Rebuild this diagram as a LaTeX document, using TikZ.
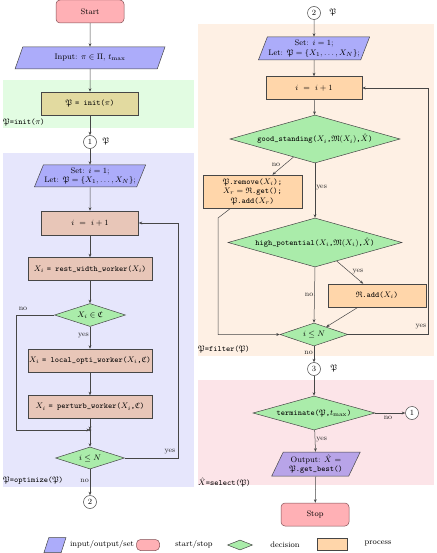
\documentclass[tikz,border=0pt]{standalone}
\usepackage{amssymb}
\usetikzlibrary{shapes.geometric,arrows.meta,calc}
\definecolor{cStartF}{RGB}{255,176,181}
\definecolor{cStartD}{RGB}{130,80,85}
\definecolor{cIOF}{RGB}{172,172,250}
\definecolor{cOutF}{RGB}{184,164,232}
\definecolor{cDecF}{RGB}{170,236,170}
\definecolor{cProcF}{RGB}{255,214,170}
\definecolor{cProcL}{RGB}{232,198,184}
\definecolor{cInitF}{RGB}{226,218,160}
\definecolor{bgGreen}{RGB}{226,252,226}
\definecolor{bgBlue}{RGB}{230,230,252}
\definecolor{bgOrange}{RGB}{254,240,228}
\definecolor{bgPink}{RGB}{252,228,232}
\definecolor{cLine}{RGB}{70,70,70}
\tikzset{
  base/.style={draw=cLine, line width=0.5pt, font=\fontsize{8}{9.5}\selectfont, inner sep=1pt},
  startstop/.style={base, rectangle, rounded corners=4pt, fill=cStartF, draw=cStartD, minimum width=68pt, minimum height=23pt},
  io/.style={base, trapezium, trapezium left angle=65, trapezium right angle=115, trapezium stretches=true, fill=cIOF, align=center},
  outp/.style={io, fill=cOutF},
  procL/.style={base, rectangle, fill=cProcL, minimum height=23pt},
  procO/.style={base, rectangle, fill=cProcF, minimum height=23pt},
  initbox/.style={base, rectangle, fill=cInitF, minimum height=23pt},
  dec/.style={base, diamond, fill=cDecF, inner sep=0pt, aspect=3.5},
  conn/.style={base, circle, minimum size=13pt, inner sep=0pt, fill=white},
  link/.style={draw=cLine, line width=0.5pt, -{Stealth[length=3.5pt,width=2.8pt]}},
  lab/.style={font=\fontsize{7.5}{9}\selectfont, text=black!85, inner sep=1pt},
  reg/.style={font=\fontsize{8}{9.5}\selectfont, anchor=west, inner sep=1pt},
  leg/.style={font=\fontsize{8}{9.5}\selectfont, inner sep=1pt},
}
\begin{document}
\begin{tikzpicture}[x=1pt,y=-1pt]
\useasboundingbox (0,0) rectangle (436,553);
% backgrounds
\fill[bgGreen] (3,80) rectangle (194,128);
\fill[bgBlue] (3,153) rectangle (194,487);
\fill[bgOrange] (198,24) rectangle (434,356);
\fill[bgPink] (198,380) rectangle (434,485);

% ---------------- left column
\node[startstop] (start) at (90,11.5) {Start};
\node[io, minimum width=150pt, minimum height=22pt] (input) at (90,58) {Input: $\pi\in\Pi$, $t_{\max}$};
\node[initbox, minimum width=97pt] (init) at (90,103.5) {$\mathfrak{P}$ \texttt{= init(}$\pi$\texttt{)}};
\node[reg] (r1) at (2,122) {$\mathfrak{P}$\texttt{=init(}$\pi$\texttt{)}};
\node[conn] (c1a) at (90,142) {1};
\node[leg] (p1) at (106,141) {$\mathfrak{P}$};
\node[io, minimum width=106pt, minimum height=22pt] (set1) at (90,176) {Set: $i=1$;\\Let: $\mathfrak{P}=\{X_1,\dots,X_N\}$;};
\node[procL, minimum width=97pt, minimum height=24pt] (inc1) at (90,223) {$i\ =\ i+1$};
\node[procL, minimum width=124pt] (rw) at (90,269) {$X_i$ \texttt{= rest\_width\_worker(}$X_i$\texttt{)}};
\node[dec, minimum width=71pt, minimum height=23pt] (d1) at (90,315) {$X_i\in\mathfrak{C}$};
\node[procL, minimum width=124pt] (lo) at (90,360.5) {$X_i$ \texttt{= local\_opti\_worker(}$X_i$\texttt{,}$\mathfrak{C}$\texttt{)}};
\node[procL, minimum width=124pt] (pw) at (90,407) {$X_i$ \texttt{= perturb\_worker(}$X_i$\texttt{,}$\mathfrak{C}$\texttt{)}};
\coordinate (j) at (90,430);
\coordinate (lb) at (16,430);
\node[dec, minimum width=69pt, minimum height=22pt] (d2) at (90,458) {$i\le N$};
\node[reg] (r2) at (2,481) {$\mathfrak{P}$\texttt{=optimize(}$\mathfrak{P}$\texttt{)}};
\node[conn] (c2a) at (90,502) {2};

\draw[link] (start) -- (input);
\draw[link] (input) -- (init);
\draw[link] (init) -- (c1a);
\draw[link] (c1a) -- (set1);
\draw[link] (set1) -- (inc1);
\draw[link] (inc1) -- (rw);
\draw[link] (rw) -- (d1);
\draw[link] (d1) -- node[lab, left, pos=0.4] {yes} (lo);
\draw[link] (lo) -- (pw);
\draw[link] (pw) -- (j);
\draw[link] (d1.west) -| (lb) -- (j);
\node[lab] at (23,309) {no};
\fill[cLine] (j) circle (1.3pt);
\draw[link] (j) -- (d2);
\draw[link] (d2.east) -| ($(inc1.east)+(39,0)$) -- (inc1.east);
\node[lab] at (170,452) {yes};
\draw[link] (d2) -- node[lab, left, pos=0.45] {no} (c2a);

% ---------------- right column
\node[conn] (c2b) at (314,13) {2};
\node[leg] (p2) at (333,12) {$\mathfrak{P}$};
\node[io, minimum width=107pt, minimum height=23pt] (set2) at (314,48.5) {Set: $i=1$;\\Let: $\mathfrak{P}=\{X_1,\dots,X_N\}$;};
\node[procO, minimum width=96pt] (inc2) at (314,88) {$i\ =\ i+1$};
\node[dec, minimum width=170pt, minimum height=48pt] (gs) at (315,139) {\texttt{good\_standing(}$X_i$\texttt{,}$\mathfrak{M}(X_i)$\texttt{,}$\hat{X}$\texttt{)}};
\node[procO, minimum width=99pt, minimum height=33pt, align=center, inner sep=0pt] (rem) at (252.5,191.5) {$\mathfrak{P}$\texttt{.remove(}$X_i$\texttt{);}\\$X_r=\mathfrak{R}$\texttt{.get();}\\$\mathfrak{P}$\texttt{.add(}$X_r$\texttt{)}};
\node[dec, minimum width=174pt, minimum height=49pt] (hp) at (315,242.5) {\texttt{high\_potential(}$X_i$\texttt{,}$\mathfrak{M}(X_i)$\texttt{,}$\hat{X}$\texttt{)}};
\node[procO, minimum width=98pt] (radd) at (377,295.5) {$\mathfrak{R}$\texttt{.add(}$X_i$\texttt{)}};
\coordinate (rk) at (218,218);
\node[dec, minimum width=68pt, minimum height=23pt] (d3) at (314,334.5) {$i\le N$};
\node[reg] (r3) at (197,349) {$\mathfrak{P}$\texttt{=filter(}$\mathfrak{P}$\texttt{)}};
\node[conn] (c3) at (314,369) {3};
\node[leg] (p3) at (334,368) {$\mathfrak{P}$};
\node[dec, minimum width=122pt, minimum height=34pt] (term) at (314,413) {\texttt{terminate(}$\mathfrak{P}$\texttt{,}$t_{\max}$\texttt{)}};
\node[conn] (c1b) at (412,413) {1};
\node[outp, minimum width=89pt, minimum height=24pt] (out) at (316,464) {Output: $\hat{X}$ =\\$\mathfrak{P}$\texttt{.get\_best()}};
\node[reg] (r4) at (197,482) {$\hat{X}$\texttt{=select(}$\mathfrak{P}$\texttt{)}};
\node[startstop] (stop) at (315,514.5) {Stop};

\draw[link] (c2b) -- (set2);
\draw[link] (set2) -- (inc2);
\draw[link] (inc2) -- (gs);
\draw[link] (gs) -- (rem);
\node[lab] at (276,165) {no};
\draw[link] (gs.south) -- node[lab, right, pos=0.45] {yes} (hp.north);
\draw[link] (hp) -- (radd);
\node[lab] at (358,272) {yes};
\draw[link] (hp.south) -- node[lab, left, pos=0.5] {no} (d3.north);
\draw[link] (radd) -- (d3);
\draw[link] (rem) -- (rk) |- (d3.west);
\draw[link] (d3.east) -| ($(inc2.east)+(66,0)$) -- (inc2.east);
\node[lab] at (421,327) {yes};
\draw[link] (d3) -- node[lab, left, pos=0.4] {no} (c3);
\draw[link] (c3) -- (term);
\draw[link] (term.east) -- (c1b);
\node[lab] at (388,418) {no};
\draw[link] (term) -- node[lab, right, pos=0.45] {yes} (out);
\draw[link] (out) -- (stop);

% ---------------- legend
\node[io, minimum width=22pt, minimum height=15pt] (lg1) at (55,545) {\phantom{x}};
\node[leg] (lt1) at (102,544) {input/output/set};
\node[startstop, minimum width=23pt, minimum height=11pt, inner sep=0pt] (lg2) at (148,545) {};
\node[leg] (lt2) at (194,544) {start/stop};
\node[dec, minimum width=25pt, minimum height=10pt] (lg3) at (240,545) {};
\node[leg] (lt3) at (285,545) {decision};
\node[procO, minimum width=30pt, minimum height=12pt, inner sep=0pt] (lg4) at (332,544) {};
\node[leg] (lt4) at (378,543) {process};
\end{tikzpicture}
\end{document}
